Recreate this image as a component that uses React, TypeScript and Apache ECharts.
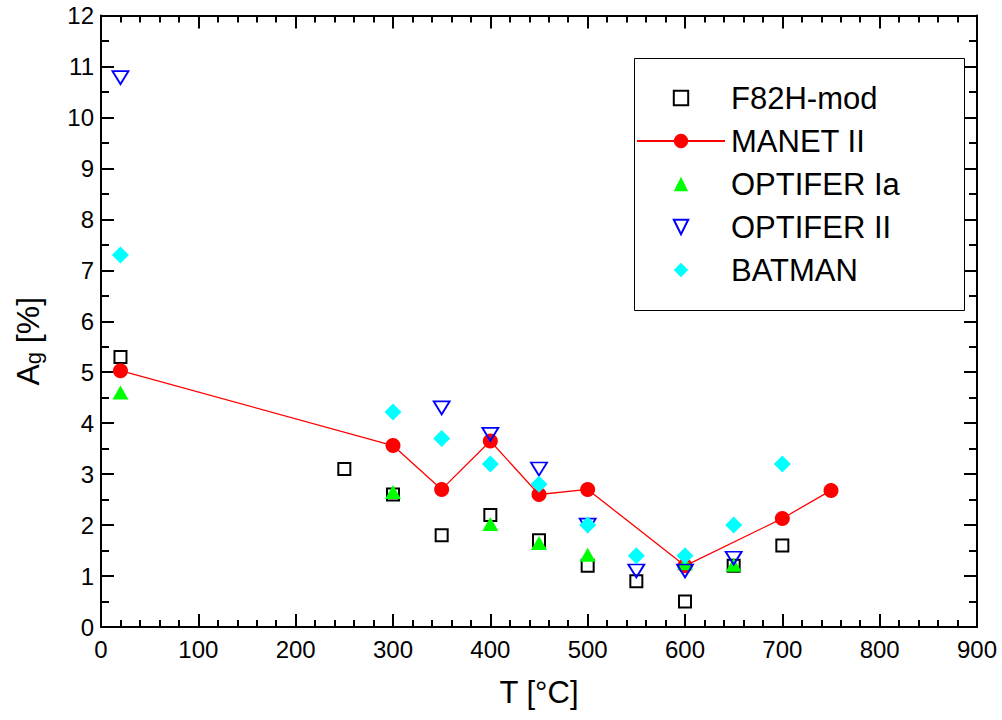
import React, { useEffect, useRef } from "react";
import * as echarts from "echarts";

const xTicks = [0, 900, 100];
const yTicks = [0, 12, 1];

const f82hX = [20, 250, 300, 350, 400, 450, 500, 550, 600, 650, 700];
const f82hY = [5.3, 3.1, 2.6, 1.8, 2.2, 1.7, 1.2, 0.9, 0.5, 1.2, 1.6];

const manetX = [20, 300, 350, 400, 450, 500, 600, 700, 750];
const manetY = [5.03, 3.56, 2.7, 3.65, 2.6, 2.7, 1.2, 2.13, 2.68];

const optIaX = [20, 300, 400, 450, 500, 600, 650];
const optIaY = [4.6, 2.65, 2.02, 1.65, 1.42, 1.25, 1.22];

const optIIX = [20, 350, 400, 450, 500, 550, 600, 650];
const optIIY = [10.78, 4.3, 3.78, 3.1, 2.0, 1.1, 1.1, 1.35];

const batX = [20, 300, 350, 400, 450, 500, 550, 600, 650, 700];
const batY = [7.3, 4.22, 3.7, 3.2, 2.8, 2.0, 1.4, 1.4, 2.0, 3.2];

const zip = (xs: number[], ys: number[]) => xs.map((x, i) => [x, ys[i]]);

const FONT = "'Liberation Sans', Arial, sans-serif";

export default function App() {
  const ref = useRef<HTMLDivElement>(null);
  useEffect(() => {
    if (!ref.current) return;
    const chart = echarts.init(ref.current, undefined, { renderer: "svg" });
    const axisCommon = {
      axisLine: { show: true, onZero: false, lineStyle: { color: "#000", width: 2 } },
      axisTick: { show: true, inside: true, length: 13, lineStyle: { color: "#000", width: 2 } },
      minorTick: { show: true, splitNumber: 5, length: 7, lineStyle: { color: "#000", width: 2 } },
      splitLine: { show: false },
    };
    const yMinor = { show: true, splitNumber: 2, length: 8, lineStyle: { color: "#000", width: 2 } };
    const hidden = { color: "rgba(0,0,0,0)", width: 0 } as any;
    const option: any = {
      animation: false,
      backgroundColor: "#fff",
      textStyle: { fontFamily: FONT },
      grid: { left: 100, right: 25, top: 15.5, bottom: 93, containLabel: false },
      legend: {
        orient: "vertical",
        left: 636,
        top: 82,
        itemWidth: 88,
        itemHeight: 18,
        itemGap: 11,
        padding: 0,
        textStyle: { fontSize: 31, fontFamily: FONT, color: "#000", lineHeight: 32, padding: [0, 0, 0, 1] },
        data: ["F82H-mod", "MANET II", "OPTIFER Ia", "OPTIFER II", "BATMAN"],
      },
      graphic: [
        {
          type: "rect",
          left: 632,
          top: 56,
          shape: { width: 330, height: 252 },
          style: { fill: "none", stroke: "#000", lineWidth: 1 },
          z: 0,
        },
      ],
      xAxis: [
        {
          type: "value",
          min: xTicks[0],
          max: xTicks[1],
          interval: xTicks[2],
          name: "T [°C]",
          nameLocation: "middle",
          nameGap: 50,
          nameTextStyle: { fontSize: 31, color: "#000", fontFamily: FONT },
          axisLabel: { fontSize: 24, color: "#000", margin: 10, fontFamily: FONT },
          ...axisCommon,
        },
        {
          type: "value",
          position: "top",
          min: xTicks[0],
          max: xTicks[1],
          interval: xTicks[2],
          ...axisCommon,
          axisLabel: { show: false },
        },
      ],
      yAxis: [
        {
          type: "value",
          min: yTicks[0],
          max: yTicks[1],
          interval: yTicks[2],
          name: "{a|A}{s|g}{a| [%]}",
          nameLocation: "middle",
          nameRotate: 90,
          nameGap: 57,
          nameTextStyle: {
            color: "#000",
            fontFamily: FONT,
            padding: [0, 40, 0, 0],
            rich: {
              a: { fontSize: 32, fontFamily: FONT, color: "#000", lineHeight: 38, verticalAlign: "bottom" },
              s: { fontSize: 22, fontFamily: FONT, color: "#000", lineHeight: 22, verticalAlign: "bottom", padding: [14, 0, 0, 0] },
            },
          },
          axisLabel: { fontSize: 24, color: "#000", margin: 7, fontFamily: FONT },
          ...axisCommon,
          minorTick: yMinor,
        },
        {
          type: "value",
          position: "right",
          min: yTicks[0],
          max: yTicks[1],
          interval: yTicks[2],
          ...axisCommon,
          axisLabel: { show: false },
          minorTick: yMinor,
        },
      ],
      series: [
        {
          name: "F82H-mod",
          type: "line",
          data: zip(f82hX, f82hY),
          symbol: "rect",
          symbolSize: 12,
          showSymbol: true,
          lineStyle: hidden,
          itemStyle: { color: "#fff", borderColor: "#000", borderWidth: 2 },
          z: 2,
        },
        {
          name: "MANET II",
          type: "line",
          data: zip(manetX, manetY),
          symbol: "circle",
          symbolSize: 15,
          lineStyle: { color: "#ff0000", width: 1.3 },
          itemStyle: { color: "#ff0000" },
          z: 3,
        },
        {
          name: "OPTIFER Ia",
          type: "line",
          data: zip(optIaX, optIaY),
          symbol: "triangle",
          symbolSize: [16, 14],
          lineStyle: hidden,
          itemStyle: { color: "#00ff00" },
          z: 4,
        },
        {
          name: "OPTIFER II",
          type: "line",
          data: zip(optIIX, optIIY),
          symbol: "triangle",
          symbolRotate: 180,
          symbolSize: [16, 13],
          lineStyle: hidden,
          itemStyle: { color: "rgba(255,255,255,0)", borderColor: "#0000ff", borderWidth: 1.8 },
          z: 5,
        },
        {
          name: "BATMAN",
          type: "line",
          data: zip(batX, batY),
          symbol: "diamond",
          symbolSize: [17, 17],
          lineStyle: hidden,
          itemStyle: { color: "#00ffff" },
          z: 6,
        },
      ],
    };
    chart.setOption(option);
    return () => chart.dispose();
  }, []);
  return <div ref={ref} style={{ width: 1002, height: 720, position: "absolute", left: 0, top: 0 }} />;
}
